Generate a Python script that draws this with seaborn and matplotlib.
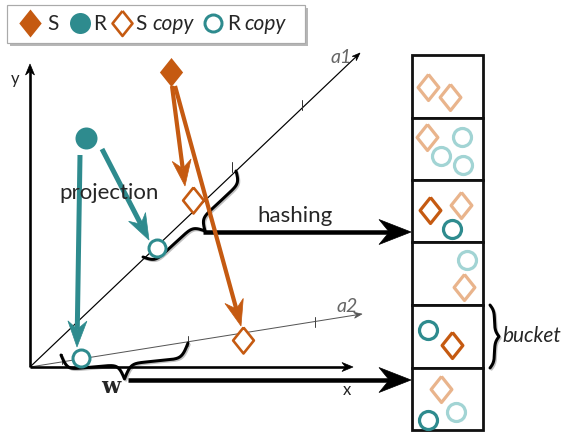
import numpy as np
import pandas as pd
import matplotlib
matplotlib.use("Agg")
import matplotlib.pyplot as plt
import seaborn as sns
from matplotlib.patches import Polygon, Rectangle

# ---- diagram data, in pixel coordinates (y grows downward) ----
dark_orange = "#C55A11"
dark_teal = "#2E8B8E"
light_orange = "#E9B48C"
light_teal = "#A2D4D4"

origin = (30, 367)
x_axis_end = (353, 367)
y_axis_end = (30, 64)
a1_end = (360, 53)
a2_end = (362, 314)
a1_ticks = [(78, 319), (232, 168), (302, 106)]
a2_ticks = [(62, 359), (188, 341), (315, 322)]

s_point = (171, 72)
r_point = (86, 138)
s_copies = [(193, 200), (243, 340)]
r_copies = [(157, 248), (81, 358)]

# projection arrows: start, tip
teal_arrows = [((80, 155), (77, 347)), ((102, 149), (149, 240))]
orange_arrows = [((172, 86), (185, 186)), ((175, 86), (241, 326))]

# hashing arrows: start, tip
hash_arrows = [((203, 232), (411, 232)), ((128, 380), (411, 380))]

# braces: p1, p2, offset direction, depth
braces = [
    ((143, 257), (236, 171), (0.675, 0.738), 23),
    ((61, 355), (188, 343), (0.0, 1.0), 30),
    ((490, 305), (490, 368), (1.0, 0.0), 9),
]

bucket_edges = [55, 118, 180, 242, 305, 368, 430]
bucket_left, bucket_right = 412, 483

item_x = [428, 450, 427, 462, 441, 463, 430, 461, 452, 467, 464, 428, 452, 441, 456, 428]
item_y = [87, 97, 137, 137, 156, 165, 210, 205, 229, 260, 287, 330, 345, 389, 412, 420]
item_kind = ["S", "S", "S", "R", "R", "R", "S", "S", "R", "R", "S", "R", "S", "S", "R", "R"]
item_shade = ["light", "light", "light", "light", "light", "light", "dark", "light", "dark",
              "light", "light", "dark", "dark", "light", "light", "dark"]

# tall diamond used for S marks
DIAMOND = [(0, 1.25), (1, 0), (0, -1.25), (-1, 0), (0, 1.25)]
PX = 0.72  # points per pixel at dpi 100


def stealth_arrow(ax, start, tip, color, lw, head_len, head_w, z=3):
    start = np.array(start, float)
    tip = np.array(tip, float)
    d = tip - start
    d /= np.hypot(*d)
    nrm = np.array([-d[1], d[0]])
    base = tip - d * head_len
    notch = tip - d * head_len * 0.68
    ax.plot([start[0], notch[0]], [start[1], notch[1]], color=color, lw=lw * PX,
            solid_capstyle="butt", zorder=z)
    ax.add_patch(Polygon([tip, base + nrm * head_w / 2, notch, base - nrm * head_w / 2],
                         closed=True, facecolor=color, edgecolor=color, lw=0.5, zorder=z))


def brace(ax, p1, p2, normal, depth, z=2):
    p1 = np.array(p1, float)
    p2 = np.array(p2, float)
    L = np.hypot(*(p2 - p1))
    u = (p2 - p1) / L
    n = np.array(normal, float)
    beta = 0.33
    s_half = np.linspace(0, L / 2, 120)
    f_half = 1 / (1 + np.exp(-beta * (s_half - s_half[0]))) + \
        1 / (1 + np.exp(-beta * (s_half - s_half[-1])))
    s = np.concatenate([s_half, L - s_half[-2::-1]])
    f = np.concatenate([f_half, f_half[-2::-1]]) - 0.5
    pts = p1[None, :] + s[:, None] * u[None, :] + (f * depth)[:, None] * n[None, :]
    ax.plot(pts[:, 0] + 1.5, pts[:, 1] + 1.5, color="#999999", lw=2.4 * PX, alpha=0.6, zorder=z - 0.1)
    ax.plot(pts[:, 0], pts[:, 1], color="black", lw=3.0 * PX, zorder=z)


def marks(ax, xs, ys, kind, face, edge, size_px, lw_px=0.0, z=5):
    df = pd.DataFrame({"x": xs, "y": ys})
    marker = DIAMOND if kind == "S" else "o"
    sns.scatterplot(data=df, x="x", y="y", marker=marker, s=(size_px * PX) ** 2,
                    color=edge, facecolor=face, edgecolor=edge, linewidth=lw_px * PX,
                    legend=False, ax=ax, zorder=z)


def draw_diagram():
    sns.set_theme(style="white")
    plt.rcParams["font.family"] = ["Lato", "DejaVu Sans"]

    fig = plt.figure(figsize=(5.62, 4.32), dpi=100)
    ax = fig.add_axes([0, 0, 1, 1])
    ax.set_xlim(0, 562)
    ax.set_ylim(432, 0)
    ax.axis("off")

    # coordinate axes
    stealth_arrow(ax, origin, x_axis_end, "black", 2.6, 11, 9)
    stealth_arrow(ax, origin, y_axis_end, "black", 2.6, 11, 9)
    stealth_arrow(ax, origin, a1_end, "black", 1.2, 8, 6, z=1)
    stealth_arrow(ax, origin, a2_end, "#555555", 1.0, 8, 6, z=1)
    for tx, ty in a1_ticks:
        ax.plot([tx, tx], [ty - 6, ty + 4], color="#333333", lw=1.0 * PX, zorder=1)
    for tx, ty in a2_ticks:
        ax.plot([tx, tx], [ty - 5, ty + 5], color="#444444", lw=1.0 * PX, zorder=1)

    ax.text(347, 390, "x", fontsize=12, ha="center", va="center", color="#222222")
    ax.text(15, 79, "y", fontsize=12, ha="center", va="center", color="#222222")
    ax.text(341, 63, "a1", fontsize=14, style="italic", color="#666666", ha="center", va="baseline")
    ax.text(347, 312, "a2", fontsize=14, style="italic", color="#666666", ha="center", va="baseline")

    # projections
    for start, tip in teal_arrows:
        stealth_arrow(ax, start, tip, dark_teal, 5.0, 26, 19, z=4)
    for start, tip in orange_arrows:
        stealth_arrow(ax, start, tip, dark_orange, 4.2, 26, 19, z=4)

    marks(ax, [s_point[0]], [s_point[1]], "S", dark_orange, dark_orange, 29)
    marks(ax, [r_point[0]], [r_point[1]], "R", dark_teal, dark_teal, 22)
    marks(ax, [p[0] for p in s_copies], [p[1] for p in s_copies], "S", "white", dark_orange, 26, 2.6)
    marks(ax, [p[0] for p in r_copies], [p[1] for p in r_copies], "R", "white", dark_teal, 17, 3.0)

    ax.text(109, 199, "projection", fontsize=16, ha="center", va="baseline", zorder=6)
    ax.text(295, 222, "hashing", fontsize=16, ha="center", va="baseline")
    ax.text(111, 387, "w", fontsize=16, fontweight="bold", family="DejaVu Serif",
            ha="center", va="center")

    # braces and hashing arrows
    for p1, p2, nrm, depth in braces:
        brace(ax, p1, p2, nrm, depth)
    for start, tip in hash_arrows:
        stealth_arrow(ax, start, tip, "black", 4.5, 32, 25, z=3)
    ax.text(502, 342, "bucket", fontsize=15, style="italic", ha="left", va="baseline")

    # buckets
    for top, bot in zip(bucket_edges[:-1], bucket_edges[1:]):
        ax.add_patch(Rectangle((bucket_left, top), bucket_right - bucket_left, bot - top,
                               facecolor="white", edgecolor="#111111", lw=2.8 * PX, zorder=2))
    items = pd.DataFrame({"x": item_x, "y": item_y, "kind": item_kind, "shade": item_shade})
    palette = {("S", "dark"): dark_orange, ("S", "light"): light_orange,
               ("R", "dark"): dark_teal, ("R", "light"): light_teal}
    for (kind, shade), grp in items.groupby(["kind", "shade"]):
        size = 26 if kind == "S" else 18
        marks(ax, grp["x"], grp["y"], kind, "white", palette[(kind, shade)], size, 3.2)

    # legend box
    ax.add_patch(Rectangle((10, 8), 298, 38, facecolor="#888888", edgecolor="none", alpha=0.6, zorder=6))
    ax.add_patch(Rectangle((7, 5), 298, 38, facecolor="white", edgecolor="#AAAAAA", lw=1.2 * PX, zorder=7))
    marks(ax, [30], [23], "S", dark_orange, dark_orange, 28, z=8)
    marks(ax, [80], [23], "R", dark_teal, dark_teal, 21, z=8)
    marks(ax, [122], [23], "S", "white", dark_orange, 25, 2.6, z=8)
    marks(ax, [213], [23], "R", "white", dark_teal, 17, 3.0, z=8)
    legend_text = [(47, "S", "normal"), (93, "R", "normal"), (135, "S", "normal"),
                   (152, "copy", "italic"), (227, "R", "normal"), (244, "copy", "italic")]
    for tx, label, st in legend_text:
        ax.text(tx, 30, label, fontsize=15, style=st, ha="left", va="baseline", zorder=8)

    fig.savefig("out.png", dpi=100)
    plt.close(fig)


if __name__ == "__main__":
    draw_diagram()
